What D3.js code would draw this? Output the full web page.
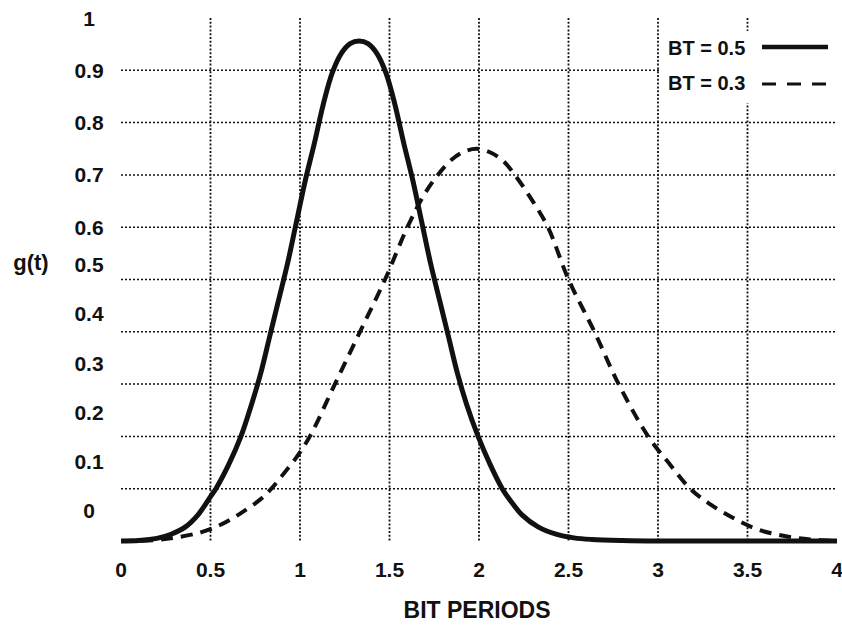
<!DOCTYPE html>
<html>
<head>
<meta charset="utf-8">
<script src="https://cdn.jsdelivr.net/npm/d3@7"></script>
<style>
  html, body { margin: 0; padding: 0; background: #fff; }
  svg { display: block; }
  text { font-family: "Liberation Sans", Arial, Helvetica, sans-serif; font-weight: bold; fill: #111; }
</style>
</head>
<body>
<svg id="chart" width="842" height="626"></svg>
<script>
// Gaussian pulse response g(t) over bit periods, for two bandwidth-time products
const bt05 = [
  [0, 0], [0.1, 0.001], [0.2, 0.005], [0.28, 0.013], [0.36, 0.027], [0.43, 0.05],
  [0.5, 0.085], [0.53, 0.1], [0.6, 0.145], [0.67, 0.2], [0.73, 0.262], [0.78, 0.32],
  [0.83, 0.39], [0.88, 0.46], [0.93, 0.53], [0.98, 0.61], [1.03, 0.69], [1.08, 0.76],
  [1.13, 0.835], [1.18, 0.895], [1.23, 0.932], [1.28, 0.951], [1.33, 0.956],
  [1.38, 0.951], [1.43, 0.932], [1.48, 0.895], [1.53, 0.835], [1.58, 0.76],
  [1.63, 0.69], [1.68, 0.61], [1.73, 0.53], [1.78, 0.46], [1.83, 0.39], [1.88, 0.32],
  [1.93, 0.262], [1.995, 0.2], [2.06, 0.148], [2.13, 0.1], [2.18, 0.075], [2.24, 0.05],
  [2.33, 0.027], [2.43, 0.013], [2.53, 0.006], [2.63, 0.003], [2.8, 0.001], [3, 0], [4, 0]
];
const bt03 = [
  [0, 0], [0.2, 0.002], [0.33, 0.008], [0.45, 0.017], [0.55, 0.03], [0.655, 0.05],
  [0.78, 0.08], [0.84, 0.1], [0.9, 0.125], [0.98, 0.16], [1.055, 0.2], [1.195, 0.3],
  [1.335, 0.4], [1.475, 0.5], [1.6, 0.6], [1.69, 0.66], [1.77, 0.7], [1.85, 0.73],
  [1.92, 0.745], [1.99, 0.75], [2.07, 0.742], [2.14, 0.725], [2.2, 0.7], [2.29, 0.655],
  [2.385, 0.6], [2.5, 0.5], [2.645, 0.4], [2.78, 0.3], [2.945, 0.2],
  [3.07, 0.145], [3.18, 0.1], [3.28, 0.073], [3.41, 0.046], [3.55, 0.023], [3.7, 0.01],
  [3.85, 0.003], [4, 0]
];
const xTicks = [0, 0.5, 1, 1.5, 2, 2.5, 3, 3.5, 4];
const xGrid = [0.5, 1, 1.5, 2, 2.5, 3, 3.5];
const yTicks = [1, 0.9, 0.8, 0.7, 0.6, 0.5, 0.4, 0.3, 0.2, 0.1, 0];
const yGrid = [0.1, 0.2, 0.3, 0.4, 0.5, 0.6, 0.7, 0.8, 0.9];
const legendItems = [
  { label: "BT = 0.5", dash: null, width: 4.5, dy: 47 },
  { label: "BT = 0.3", dash: "14,11", width: 3, dy: 49 }
];

const svg = d3.select("#chart");

const x = d3.scaleLinear().domain([0, 4]).range([121, 837]);
const y = d3.scaleLinear().domain([0, 1]).range([541, 18]);

// the printed value labels sit a little above their grid lines in the lower half
const labelPos = d3.scaleLinear().domain([0, 0.5, 0.6, 1]).range([0.059, 0.528, 0.6, 1]);

const fmt = d => String(d);

// grid
const grid = svg.append("g").attr("stroke", "#111").attr("fill", "none");
grid.selectAll("line.h").data(yGrid).join("line")
  .attr("class", "h")
  .attr("x1", x(0)).attr("x2", x(4))
  .attr("y1", d => y(d)).attr("y2", d => y(d))
  .attr("stroke-width", 1.5)
  .attr("stroke-dasharray", "2,2");
grid.selectAll("line.v").data(xGrid).join("line")
  .attr("class", "v")
  .attr("x1", d => x(d)).attr("x2", d => x(d))
  .attr("y1", y(1)).attr("y2", y(0))
  .attr("stroke-width", 1.8)
  .attr("stroke-dasharray", "2,1.8");

// curves
const line = d3.line().x(d => x(d[0])).y(d => y(d[1])).curve(d3.curveCatmullRom.alpha(0.5));

svg.append("path").datum(bt03)
  .attr("d", line)
  .attr("fill", "none").attr("stroke", "#111")
  .attr("stroke-width", 4)
  .attr("stroke-dasharray", "12,8");

svg.append("path").datum(bt05)
  .attr("d", line)
  .attr("fill", "none").attr("stroke", "#111")
  .attr("stroke-width", 5)
  .attr("stroke-linejoin", "round");

// axis labels
svg.append("g").selectAll("text").data(xTicks).join("text")
  .attr("x", d => x(d)).attr("y", 577)
  .attr("text-anchor", "middle")
  .attr("font-size", 21)
  .text(fmt);

svg.append("g").selectAll("text").data(yTicks).join("text")
  .attr("x", 89).attr("y", d => y(labelPos(d)))
  .attr("dy", "0.36em")
  .attr("text-anchor", "middle")
  .attr("font-size", 21)
  .text(fmt);

svg.append("text")
  .attr("x", 31).attr("y", 262).attr("dy", "0.36em")
  .attr("text-anchor", "middle")
  .attr("font-size", 22)
  .text("g(t)");

svg.append("text")
  .attr("x", 477).attr("y", 618)
  .attr("text-anchor", "middle")
  .attr("font-size", 23)
  .text("BIT PERIODS");

// legend
const legend = svg.append("g");
legend.append("rect")
  .attr("x", 661).attr("y", 31).attr("width", 174).attr("height", 72)
  .attr("fill", "#fff");
const rows = legend.selectAll("g").data(legendItems).join("g")
  .attr("transform", (d, i) => `translate(0, ${i * 35})`);
rows.append("text")
  .attr("x", 668).attr("y", 55)
  .attr("font-size", 20)
  .text(d => d.label);
rows.append("line")
  .attr("x1", 762).attr("x2", 828)
  .attr("y1", d => d.dy).attr("y2", d => d.dy)
  .attr("stroke", "#111")
  .attr("stroke-width", d => d.width)
  .attr("stroke-dasharray", d => d.dash);
</script>
</body>
</html>
